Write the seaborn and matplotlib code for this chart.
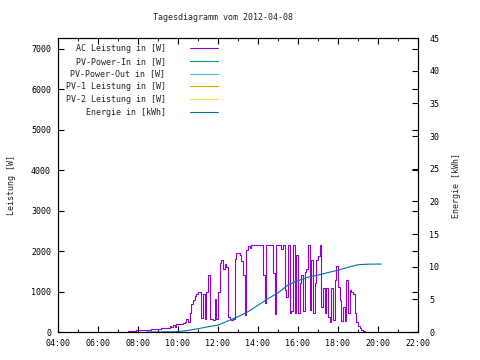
import pandas as pd
import numpy as np
import matplotlib
matplotlib.use("Agg")
import matplotlib.pyplot as plt
import seaborn as sns

# AC power in W, one value every 5 minutes starting 07:10
ac_start = "2012-04-08 07:10"
ac_power = [
    0, 0, 0, 0, 25, 25, 25, 25, 30, 50,            # 07:10 - 07:55
    50, 50, 50, 50, 50, 55, 55, 60, 65, 65,        # 08:00 - 08:45
    65, 65, 70, 70, 100, 100, 100, 100, 110, 150,  # 08:50 - 09:35
    120, 180, 130, 190, 200, 200, 210, 220, 250, 320,  # 09:40 - 10:25
    250, 480, 700, 780, 880, 950, 1000, 980, 350, 950,  # 10:30 - 11:15
    320, 1000, 1410, 330, 310, 300, 820, 330, 1000, 1700,  # 11:20 - 12:05
    1770, 1550, 1680, 1600, 380, 330, 300, 330, 1800, 1950,  # 12:10 - 12:55
    1950, 1900, 1750, 1400, 420, 2030, 2115, 2080, 2140, 2140,  # 13:00 - 13:45
    2140, 2140, 2140, 2140, 2140, 1410, 710, 2140, 2140, 2140,  # 13:50 - 14:35
    2140, 1460, 450, 2140, 2140, 2140, 2060, 2140, 1040, 870,  # 14:40 - 15:25
    2140, 460, 520, 2140, 460, 1900, 460, 1200, 1410, 520,  # 15:30 - 16:15
    1490, 1550, 2140, 545, 1780, 460, 1200, 1785, 1870, 2140,  # 16:20 - 17:05
    630, 1090, 460, 1090, 380, 255, 1090, 300, 1290, 1620,  # 17:10 - 17:55
    1120, 790, 260, 630, 260, 1290, 460, 1040, 1000, 950,  # 18:00 - 18:45
    460, 250, 150, 100, 40, 30, 10, 10, 10, 10,  # 18:50 - 19:35
    5, 0,  # 19:40 - 19:45
]

# cumulated energy in kWh
energy_times = ["08:25", "09:00", "09:30", "10:00", "10:30", "11:00", "11:30",
                "12:00", "12:30", "13:00", "13:30", "14:00", "14:30", "15:00",
                "15:30", "16:00", "16:30", "17:00", "17:30", "18:00", "18:30",
                "19:00", "19:30", "20:00", "20:10"]
energy_kwh = [0.0, 0.0, 0.02, 0.05, 0.25, 0.5, 0.8,
              1.05, 1.7, 2.35, 3.1, 4.1, 5.1, 6.0,
              7.2, 7.85, 8.4, 8.7, 9.1, 9.45, 9.9,
              10.3, 10.38, 10.4, 10.4]

x_ticks = [4, 6, 8, 10, 12, 14, 16, 18, 20, 22]
x_labels = ["04:00", "06:00", "08:00", "10:00", "12:00", "14:00",
            "16:00", "18:00", "20:00", "22:00"]
y1_ticks = [0, 1000, 2000, 3000, 4000, 5000, 6000, 7000]
y2_ticks = [0, 5, 10, 15, 20, 25, 30, 35, 40, 45]

series_names = ["AC Leistung in [W]", "PV-Power-In in [W]", "PV-Power-Out in [W]",
                "PV-1 Leistung in [W]", "PV-2 Leistung in [W]", "Energie in [kWh]"]
series_colors = ["#9400D3", "#009E73", "#56B4E9", "#E69F00", "#F0E442", "#0072B2"]


def to_hours(ts):
    return ts.dt.hour + ts.dt.minute / 60.0


def main():
    sns.set_theme(style="white")
    plt.rcParams["font.family"] = ["DejaVu Sans Mono", "DejaVu Sans"]
    plt.rcParams["font.size"] = 6

    ac = pd.DataFrame({
        "time": pd.date_range(ac_start, periods=len(ac_power), freq="5min"),
        "power": ac_power,
    })
    ac["hour"] = to_hours(ac["time"])

    en = pd.DataFrame({"time": pd.to_datetime(energy_times, format="%H:%M"),
                       "energy": energy_kwh})
    en["hour"] = to_hours(en["time"])

    fig = plt.figure(figsize=(4.8, 3.6), dpi=100)
    ax = fig.add_axes([58 / 480, 28 / 360, 360 / 480, 294 / 360])
    ax2 = ax.twinx()

    sns.lineplot(data=ac, x="hour", y="power", ax=ax, color=series_colors[0],
                 linewidth=0.8, drawstyle="steps-post", label=series_names[0],
                 legend=False)
    for name, col in zip(series_names[1:5], series_colors[1:5]):
        ax.plot([], [], color=col, linewidth=0.8, label=name)
    sns.lineplot(data=en, x="hour", y="energy", ax=ax2, color=series_colors[5],
                 linewidth=0.8, label=series_names[5], legend=False)

    ax.set_xlim(4, 22)
    ax.set_ylim(0, 7270)
    ax2.set_ylim(0, 45)

    ax.set_xticks(x_ticks)
    ax.set_xticklabels(x_labels)
    ax.set_xticks(np.arange(5, 22, 2), minor=True)
    ax.set_yticks(y1_ticks)
    ax.set_yticklabels([str(v) for v in y1_ticks])
    ax2.set_yticks(y2_ticks)
    ax2.set_yticklabels([str(v) for v in y2_ticks])

    ax.tick_params(axis="both", which="major", direction="in", length=4,
                   width=0.8, top=True, right=True, bottom=True, left=True,
                   labelsize=6, pad=5, colors="black")
    ax.tick_params(axis="x", which="minor", direction="in", length=2,
                   width=0.8, top=True, bottom=True)
    ax2.tick_params(axis="y", direction="in", length=4, width=0.8,
                    labelsize=6, pad=8, colors="black")

    ax.set_xlabel("")
    ax.set_ylabel("Leistung [W]", fontsize=6, labelpad=11)
    ax2.set_ylabel("Energie [kWh]", fontsize=6, labelpad=9)

    for a in (ax, ax2):
        for s in a.spines.values():
            s.set_color("black")
            s.set_linewidth(0.8)
    ax.grid(False)
    ax2.grid(False)

    fig.text(223 / 480, 1 - 18 / 360, "Tagesdiagramm vom 2012-04-08",
             ha="center", va="center", fontsize=6)

    h1, l1 = ax.get_legend_handles_labels()
    h2, l2 = ax2.get_legend_handles_labels()
    ax2.legend(h1 + h2, l1 + l2, loc="upper right",
               bbox_to_anchor=(218 / 480, 1 - 44 / 360),
               bbox_transform=fig.transFigure, frameon=False,
               markerfirst=False, fontsize=6, handlelength=3.4,
               handletextpad=2.9, labelspacing=0.45, borderpad=0,
               borderaxespad=0)

    fig.savefig("out.png", dpi=100)


if __name__ == "__main__":
    main()
